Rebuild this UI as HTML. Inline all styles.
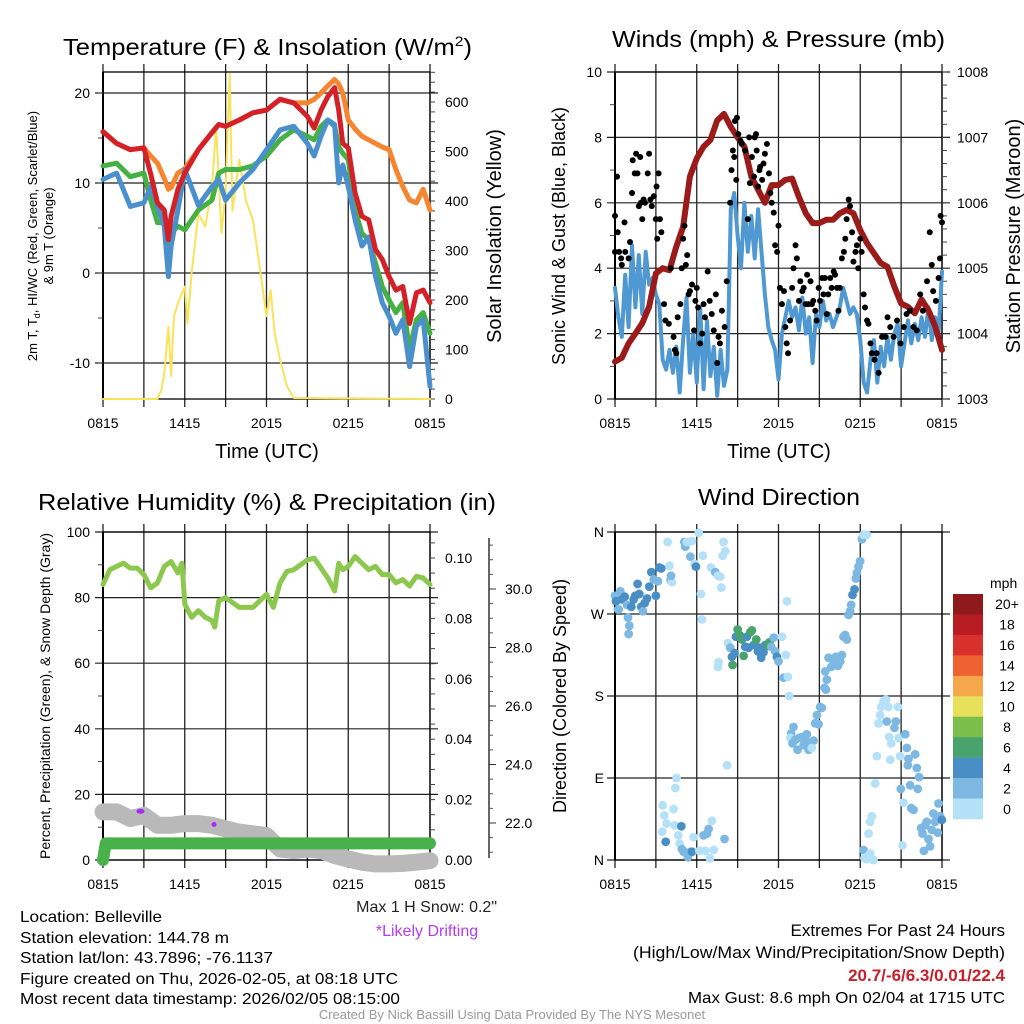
<!DOCTYPE html>
<html><head><meta charset="utf-8"><style>
html,body{margin:0;padding:0;background:#fff;}
svg{display:block;font-family:"Liberation Sans",Arial,sans-serif;}
</style></head><body>
<svg id="root" width="1024" height="1024" viewBox="0 0 1024 1024">
<rect width="1024" height="1024" fill="#fff"/>
<text x="63" y="55" font-size="23" textLength="409" lengthAdjust="spacingAndGlyphs">Temperature (F) &amp; Insolation (W/m<tspan font-size="14" dy="-9">2</tspan><tspan dy="9">)</tspan></text>
<text x="612" y="47" font-size="23" textLength="333" lengthAdjust="spacingAndGlyphs">Winds (mph) &amp; Pressure (mb)</text>
<text x="38" y="510" font-size="23" textLength="458" lengthAdjust="spacingAndGlyphs">Relative Humidity (%) &amp; Precipitation (in)</text>
<text x="698" y="505" font-size="23" textLength="162" lengthAdjust="spacingAndGlyphs">Wind Direction</text>

<g font-size="16">
<text x="20" y="922" textLength="142" lengthAdjust="spacingAndGlyphs">Location: Belleville</text>
<text x="20" y="943" textLength="209" lengthAdjust="spacingAndGlyphs">Station elevation: 144.78 m</text>
<text x="20" y="963" textLength="253" lengthAdjust="spacingAndGlyphs">Station lat/lon: 43.7896; -76.1137</text>
<text x="20" y="984" textLength="378" lengthAdjust="spacingAndGlyphs">Figure created on Thu, 2026-02-05, at 08:18 UTC</text>
<text x="20" y="1004" textLength="380" lengthAdjust="spacingAndGlyphs">Most recent data timestamp: 2026/02/05 08:15:00</text>
</g>
<text x="497" y="912" font-size="16" text-anchor="end" fill="#222">Max 1 H Snow: 0.2"</text>
<text x="427" y="936" font-size="16" text-anchor="middle" fill="#b13cf0">*Likely Drifting</text>
<g font-size="17" text-anchor="end">
<text x="1005" y="936">Extremes For Past 24 Hours</text>
<text x="1005" y="958" textLength="372" lengthAdjust="spacingAndGlyphs">(High/Low/Max Wind/Precipitation/Snow Depth)</text>
<text x="1005" y="981" fill="#c8202a" font-weight="bold">20.7/-6/6.3/0.01/22.4</text>
<text x="1005" y="1003" font-size="16" textLength="317" lengthAdjust="spacingAndGlyphs">Max Gust: 8.6 mph On 02/04 at 1715 UTC</text>
</g>
<text x="512" y="1019" font-size="13" text-anchor="middle" fill="#999">Created By Nick Bassill Using Data Provided By The NYS Mesonet</text>
</svg>
<script>
// ---------- DATA ----------
const xTickLabels = ["0815","1415","2015","0215","0815"];
// temperature panel (hours since 0815)
const tHours = [0,1,2,3,3.5,4,4.5,4.8,5,5.5,6,7,8,8.5,9,10,11,12,13,14,15,15.5,16,16.5,17,17.3,17.6,18,18.5,19,19.5,20,20.5,21,21.5,22,22.5,23,23.5,24];
const redT = [15.7,14.4,13.7,13.9,11,7.8,7,3.7,6.3,9.3,11.1,13.7,15.6,16.5,16.3,17,17.8,18.1,19.3,18.9,17.4,16.1,18.1,19.6,20.6,18.1,14.4,13.9,8.9,6.3,5.9,2.6,1.5,-0.4,-1.9,-1.5,-5.6,-2.2,-1.9,-3.3];
const orangeT = [15.7,14.4,13.7,13.9,13,12.2,10.5,9.3,9.5,11.1,11.6,13.7,15.6,16.5,16.3,17,17.8,18.1,19.3,18.9,18.9,19.3,20,20.8,21.5,21,20,17,16,15.2,14.8,14.4,14,13.7,11.5,9.6,8.1,7.8,9.3,7];
const greenTd = [11.9,12.2,10.7,11.1,8.1,5.6,5.6,0.7,4.4,5.2,4.8,7,8.1,11.1,11.5,11.5,11.9,13,14.8,15.9,15.2,14.8,16.3,17,16.3,14,13.3,12.6,7,4.4,3.7,1.1,-1.5,-3,-4.4,-3.3,-8.5,-5.2,-4.4,-6.7];
const blueWC = [10.4,11.1,7.4,7.8,9.6,7.4,5.2,-0.4,3,7,11.5,7.5,9.6,10.4,8.1,10,11.5,13.7,15.9,16.3,14.4,13,15.2,17,16.5,10,12,9.6,5.9,3,4,-0.4,-3.3,-4.8,-6.7,-5.2,-10.4,-5.9,-5.2,-12.6];
const solarHours = [0,4,4.3,4.5,4.8,5,5.2,5.5,6,6.2,6.5,7,7.5,8,8.3,8.7,9,9.3,9.5,10,10.5,11,11.5,12,12.3,12.6,13,13.5,14,24];
const solarW = [0,0,20,52,146,46,167,194,227,153,254,375,348,429,550,335,420,657,380,483,400,362,267,167,220,133,79,26,2,0];
const tempTicks = [20,10,0,-10];
const solarTicks = [0,100,200,300,400,500,600];
// wind panel
const windHours = [0,0.25,0.5,0.75,1,1.25,1.5,1.75,2,2.25,2.5,2.75,3,3.25,3.5,3.75,4,4.25,4.5,4.75,5,5.25,5.5,5.75,6,6.25,6.5,6.75,7,7.25,7.5,7.75,8,8.25,8.5,8.75,9,9.25,9.5,9.75,10,10.25,10.5,10.75,11,11.25,11.5,11.75,12,12.25,12.5,12.75,13,13.25,13.5,13.75,14,14.25,14.5,14.75,15,15.25,15.5,15.75,16,16.25,16.5,16.75,17,17.25,17.5,17.75,18,18.25,18.5,18.75,19,19.25,19.5,19.75,20,20.25,20.5,20.75,21,21.25,21.5,21.75,22,22.25,22.5,22.75,23,23.25,23.5,23.75,24];
const windSpeed = [3.4,2.5,1.9,3.8,2.2,4.7,2.8,4.4,2.6,4.5,3.5,3.7,3.2,2.9,1.2,0.9,1.5,0.8,1.6,0.2,1.8,3.1,0.8,2.0,0.5,2.8,0.3,2.4,0.7,1.6,0.1,1.5,0.4,0.9,5.8,6.3,5.0,4.0,6.0,4.5,5.6,4.3,5.8,4.5,3.2,2.2,1.8,1.5,0.6,2.0,2.5,3.0,2.5,2.8,2.1,3.1,2.0,2.5,1.1,2.6,2.2,3.0,2.4,2.6,2.2,2.5,2.8,3.4,3.0,2.6,2.8,2.6,1.8,0.5,0.2,1.2,1.8,0.5,1.6,1.0,1.9,1.2,2.0,2.3,1.0,1.7,2.4,1.7,2.3,1.8,2.5,1.9,2.8,1.8,2.5,2.0,3.9];
const gustHours = [0,0.15,0,0.2,0.3,0.45,0.5,0.7,0.75,1.0,1.1,1.25,1.3,1.45,1.55,1.65,1.75,1.85,1.9,2.0,2.1,2.2,2.4,2.5,2.6,2.7,2.85,3.0,3.05,3.1,3.2,3.3,3.4,3.6,3.7,3.95,4.1,4.3,4.4,4.5,4.6,4.8,4.9,5.0,5.1,5.2,5.3,5.4,5.5,5.65,5.8,5.9,6.0,6.1,6.25,6.4,6.5,6.6,6.8,6.95,7.1,7.25,7.4,7.5,7.6,7.7,7.85,8.05,8.2,8.45,8.55,8.65,8.75,8.9,8.8,8.95,9.05,9.2,9.3,9.55,9.75,9.85,9.9,10.05,10.2,10.25,10.35,10.4,10.5,10.6,10.65,10.8,10.9,11.0,11.15,11.3,11.4,11.5,11.65,11.75,11.9,12.0,12.1,12.25,12.4,12.5,12.6,12.7,12.85,13.0,13.1,13.25,13.35,13.5,13.6,13.75,13.85,14.0,14.1,14.2,14.35,14.45,14.55,14.7,14.8,14.95,15.05,15.2,15.3,15.4,15.55,15.65,15.8,15.9,16.05,16.15,16.3,16.4,16.5,16.65,16.8,16.9,17.0,17.15,17.25,17.4,17.5,17.65,17.75,17.85,18.0,18.1,18.25,18.35,18.5,18.6,18.75,18.85,19.05,19.2,19.35,19.6,19.85,20.0,20.2,20.45,20.7,20.95,21.2,21.4,21.65,21.9,22.15,22.4,22.6,22.9,23.1,23.25,23.35,23.55,23.75,23.85,24.0,23.9];
const gustVals = [5.6,6.8,4.5,5.1,4.5,4.3,4.1,5.4,4.5,4.3,4.8,6.3,7.3,6.9,7.5,6.9,5.9,7.4,6.0,5.5,6.1,6.0,6.9,7.5,6.1,5.9,6.2,5.5,6.5,4.9,6.9,5.5,5.1,2.9,2.4,2.3,4.0,1.9,1.5,1.4,2.5,2.9,4.0,4.9,5.3,4.1,4.4,3.2,3.3,3.5,2.1,3.0,3.4,2.8,1.7,2.0,2.9,2.5,3.9,3.0,2.6,2.1,3.2,1.1,1.9,1.7,2.7,2.2,3.6,6.0,7.0,7.6,7.4,6.7,8.5,8.6,8.1,7.9,7.8,7.6,5.5,8.0,6.6,7.4,6.8,8.0,8.1,7.6,6.5,7.0,7.1,6.7,7.2,7.5,7.8,6.9,6.3,6.0,5.7,4.7,4.5,5.3,3.4,2.9,3.3,2.2,1.7,1.4,2.4,3.4,4.0,4.7,4.3,3.0,3.6,3.3,3.4,2.9,3.8,2.9,3.6,2.9,3.0,2.7,2.4,3.4,3.0,3.7,3.2,3.7,2.6,3.2,3.7,3.4,3.9,3.8,3.4,2.7,3.4,4.3,4.5,4.9,5.5,6.1,5.9,5.1,4.2,4.5,4.7,4.0,4.9,4.5,3.2,2.8,2.4,2.3,1.7,1.4,1.2,1.4,0.8,1.9,1.9,2.5,2.2,1.9,2.4,1.7,2.2,2.6,2.7,2.2,2.1,3.2,2.7,3.6,5.1,4.1,3.3,3.0,3.7,4.3,5.4,5.6];
const presHours = [0,0.5,1,1.5,2,2.5,3,3.5,4,4.5,5,5.5,6,6.5,7,7.5,8,8.5,9,9.5,10,10.5,11,11.5,12,12.5,13,13.5,14,14.5,15,15.5,16,16.5,17,17.5,18,18.5,19,19.5,20,20.5,21,21.5,22,22.5,23,23.5,24];
const presMb = [1003.57,1003.63,1003.85,1004.0,1004.16,1004.41,1004.92,1005.0,1004.97,1005.33,1005.63,1006.4,1006.68,1006.86,1006.96,1007.26,1007.36,1007.16,1007.0,1006.86,1006.4,1006.2,1006.0,1006.27,1006.27,1006.35,1006.37,1006.09,1005.84,1005.69,1005.69,1005.74,1005.74,1005.84,1005.89,1005.84,1005.58,1005.38,1005.23,1005.08,1005.02,1004.72,1004.46,1004.41,1004.31,1004.52,1004.36,1004.11,1003.75];
const windTicks = [0,2,4,6,8,10];
const presTicks = [1003,1004,1005,1006,1007,1008];
// humidity panel
const rhHours = [0,0.5,1,1.5,2,2.5,3,3.5,4,4.5,5,5.5,5.8,6,6.5,7,7.5,8,8.2,8.5,9,10,11,12,12.5,13,13.5,14,14.5,15,15.5,16,16.5,17,17.3,17.6,18,18.5,19,19.5,20,20.5,21,21.5,22,22.5,23,23.5,24];
const rhPct = [84,88.5,89.5,90.5,89,89,87,83,84.5,89.5,91,87.5,90.5,78,74,76,74,73,71,79,80,77,77,81,77,84.5,88,88.5,90,91.5,92,89,86,82,90.5,88.5,89.5,92.5,90.5,88.5,89.5,87,87,84.5,85.5,83.5,86.5,86,84];
const snowHours = [0,1,2,3,4,5,6,7,8,9,10,11,12,13,14,15,16,17,18,19,20,21,22,23,24];
const snowIn = [22.38,22.38,22.15,22.26,21.92,21.92,21.98,21.98,21.92,21.80,21.69,21.63,21.57,21.11,21.06,21.11,21.06,20.89,20.77,20.66,20.60,20.60,20.62,20.66,20.71];
const driftHours = [2.75,8.15];
const driftIn = [22.4,21.95];
const precipHours = [0,0.2,24];
const precipIn = [0,0.0055,0.0055];
const rhTicks = [0,20,40,60,80,100];
const precipTicks = [0,0.02,0.04,0.06,0.08,0.10];
const snowTicks = [22,24,26,28,30];
// wind direction panel
const dirHours = [0,0.07,0.22,0.39,0.51,0.71,0.88,0.95,1.05,1.0,1.2,1.37,1.49,1.66,1.78,1.93,2.05,2.18,2.35,2.52,2.67,2.84,3.0,3.15,3.25,3.4,0.27,
3.86,3.99,4.08,4.18,5.09,5.16,5.28,5.53,5.65,5.84,5.94,6.14,6.31,6.45,6.38,7.04,7.36,7.55,7.73,7.8,7.9,8.09,7.97,4.11,
3.5,3.62,3.79,3.47,3.72,4.3,4.38,4.43,4.52,4.65,4.74,4.87,4.91,5.04,5.21,5.35,5.53,5.65,5.77,6.19,6.5,6.63,6.75,6.87,6.97,7.11,7.24,8.04,8.22,
7.6,7.55,8.29,8.46,8.58,8.63,8.78,8.88,9.0,9.14,9.32,9.44,9.56,9.68,9.8,9.93,10.05,10.17,10.37,10.49,10.59,10.73,10.9,11.03,11.22,11.34,11.47,11.64,11.76,11.88,12.0,12.25,12.54,12.62,12.37,12.69,12.79,
13.1,12.93,12.86,13.03,13.23,13.4,13.52,13.72,13.84,13.96,14.08,14.21,14.33,14.57,14.45,14.69,14.82,14.94,15.06,15.18,15.38,15.48,15.55,15.43,15.67,15.87,16.04,16.21,16.36,16.53,16.65,16.77,16.89,17.02,17.14,17.26,17.33,17.43,17.58,17.68,17.75,17.87,17.99,18.12,18.24,18.48,
18.24,18.31,18.48,18.61,18.73,18.61,18.73,18.85,19.1,19.22,18.97,19.34,19.46,19.54,19.71,19.88,20.07,19.95,20.12,20.27,20.2,20.51,20.61,20.76,20.81,20.93,20.98,21.1,21.17,21.3,21.42,21.54,21.49,21.66,21.74,21.91,22.03,22.15,22.22,22.32,22.47,22.57,22.67,22.76,22.88,23.01,23.13,23.25,23.37,23.5,23.62,23.74,23.86,23.99,23.69];
const dirDeg = [290,284,275,295,286,289,280,266,257,248,278,286,290,303,292,278,273,282,287,300,316,308,290,306,321,320,275,
349,323,307,305,349,344,349,333,350,325,322,359,292,334,264,321,316,312,311,299,334,339,349,312,
60,49,40,31,20,56,38,79,90,27,18,37,12,9,8,3,9,9,25,10,27,10,29,34,2,43,11,23,104,
217,212,238,233,223,214,227,245,253,247,242,224,234,245,233,250,252,236,242,229,233,222,228,236,235,239,234,244,229,223,218,245,225,284,200,201,180,
146,139,134,128,132,121,134,135,126,132,138,121,129,131,123,150,159,149,168,167,189,187,198,207,222,212,218,223,213,218,225,245,247,242,269,273,280,291,297,309,315,322,328,352,357,357,
11,2,1,5,7,29,42,48,84,114,0,150,159,168,174,176,168,152,135,128,110,145,152,168,134,114,78,16,63,138,123,111,104,82,57,55,116,101,78,91,35,29,10,38,42,23,15,33,51,42,46,62,48,44,30];
const dirSpeed = [3,5,3,3,5,5,3,3,3,3,5,5,5,5,5,5,3,5,5,5,5,3,5,3,5,5,3,
1,1,3,1,3,3,1,3,1,1,5,1,1,1,1,1,3,1,1,1,1,1,1,3,
1,1,1,1,5,1,1,1,1,1,1,5,3,3,3,3,3,5,1,1,3,1,3,3,1,1,1,3,1,
1,1,1,3,5,7,5,5,7,7,7,7,5,5,5,7,7,5,7,5,5,5,5,5,7,7,3,3,3,5,3,1,1,1,3,1,1,
3,3,1,3,3,3,3,3,3,3,3,3,3,3,1,3,3,3,3,3,3,3,3,3,3,3,3,3,3,3,3,3,3,3,3,3,3,5,5,3,3,3,3,3,1,1,
3,1,1,1,1,1,1,1,1,1,1,1,1,1,1,1,1,3,1,1,1,3,3,1,1,1,3,1,1,3,3,3,3,3,3,3,3,3,3,3,3,3,3,3,3,3,3,3,3,3,3,3,3,5,3];
const dirTickLabels = ["N","E","S","W","N"];
const dirTicks = [0,90,180,270,360];
const cbLabels = ["20+","18","16","14","12","10","8","6","4","2","0"];
const cbColors = ["#8e1a1b","#b71c23","#d8312b","#ee6131","#f5a74a","#e6e05a","#7bbf4a","#48a36d","#4a8ec6","#7db8e2","#b4e1f7"];

// ---------- RENDER ----------
const NS = "http://www.w3.org/2000/svg";
const root = document.getElementById("root");
function mk(tag, attrs, name, parent) {
  const el = document.createElementNS(NS, tag);
  for (const k in attrs) el.setAttribute(k, attrs[k]);
  
  
  (parent || root).appendChild(el);
  return el;
}
function lin(d0, d1, r0, r1) { return v => r0 + (v - d0) * (r1 - r0) / (d1 - d0); }
function pathFrom(xs, ys, sx, sy) {
  let d = "";
  for (let i = 0; i < xs.length; i++) d += (i ? "L" : "M") + sx(xs[i]).toFixed(1) + "," + sy(ys[i]).toFixed(1);
  return d;
}

function panelFrame(x0, x1, y0, y1, yTicksPx, name) {
  const g = mk("g", {}, name + "-axes");
  const sx = lin(0, 24, x0, x1);
  for (let h = 0; h <= 24; h += 3) {
    mk("line", {x1: sx(h), x2: sx(h), y1: y0 - 8, y2: y1 + 8, stroke: "#222", "stroke-width": 1.3}, name + "-vgrid", g);
  }
  yTicksPx.forEach(y => mk("line", {x1: x0 - 8, x2: x1 + 8, y1: y, y2: y, stroke: "#222", "stroke-width": 1.2}, name + "-hgrid", g));
  mk("line", {x1: x0, x2: x0, y1: y0, y2: y1, stroke: "#000", "stroke-width": 2}, name + "-left-axis", g);
  mk("rect", {x: x0, y: y0, width: x1 - x0, height: y1 - y0, fill: "none", stroke: "#000", "stroke-width": 1.3}, name + "-frame", g);
  xTickLabels.forEach((t, i) => {
    const tx = mk("text", {x: sx(i * 6), y: y1 + 29, "font-size": 14, "text-anchor": "middle"}, name + "-x-tick-label", g);
    tx.textContent = t;
  });
  return sx;
}
function rightTicks(x1, y0, y1, sy, majors, minorStep, dmin, dmax, fmt, name) {
  const g = mk("g", {}, name + "-right-axis");
  for (let v = dmin; v <= dmax + 1e-9; v += minorStep) {
    const y = sy(v); if (y < y0 - 0.5 || y > y1 + 0.5) continue;
    mk("line", {x1: x1, x2: x1 + 5, y1: y, y2: y, stroke: "#444", "stroke-width": 1}, name + "-minor-tick", g);
  }
  majors.forEach(v => {
    const t = mk("text", {x: x1 + 15, y: sy(v) + 5, "font-size": 14}, name + "-right-tick-label", g);
    t.textContent = fmt(v);
  });
}
function leftLabels(x0, sy, vals, labels, name) {
  vals.forEach((v, i) => {
    const t = mk("text", {x: x0 - 13, y: sy(v) + 5, "font-size": 14, "text-anchor": "end"}, name + "-y-tick-label");
    t.textContent = labels ? labels[i] : String(v);
  });
}
function rotText(x, y, txt, size, name, fill) {
  const t = mk("text", {x: 0, y: 0, "font-size": size, "text-anchor": "middle", transform: `translate(${x},${y}) rotate(-90)`, fill: fill || "#000"}, name);
  t.textContent = txt;
  return t;
}

// Panel 1: temperature
(function () {
  const x0 = 103, x1 = 430, y0 = 72, y1 = 399;
  const sy = lin(0, 10, 273, 183);
  const ss = lin(0, 600, 399, 102);
  const sx = panelFrame(x0, x1, y0, y1, tempTicks.map(sy), "temp");
  for (let v = -10; v <= 20; v += 5) mk("line", {x1: x0 - 5, x2: x0, y1: sy(v), y2: sy(v), stroke: "#444"}, "temp-left-minor-tick");
  leftLabels(x0, sy, tempTicks, null, "temp");
  rightTicks(x1, y0, y1, ss, solarTicks, 20, 0, 660, v => String(v), "solar");
  const g = mk("g", {fill: "none", "stroke-linejoin": "round", "stroke-linecap": "round"}, "temp-series");
  mk("path", {d: pathFrom(solarHours, solarW, sx, ss), stroke: "#f9e35a", "stroke-width": 2}, "solar-insolation-line", g);
  mk("path", {d: pathFrom(tHours, orangeT, sx, sy), stroke: "#f5852f", "stroke-width": 5}, "temp-9m-line", g);
  mk("path", {d: pathFrom(tHours, greenTd, sx, sy), stroke: "#45b044", "stroke-width": 5}, "dewpoint-line", g);
  mk("path", {d: pathFrom(tHours, blueWC, sx, sy), stroke: "#4a90cc", "stroke-width": 5}, "wind-chill-line", g);
  mk("path", {d: pathFrom(tHours, redT, sx, sy), stroke: "#d42027", "stroke-width": 5}, "temp-2m-line", g);
  const t = mk("text", {x: 267, y: 458, "font-size": 20, "text-anchor": "middle"}, "temp-x-axis-title");
  t.textContent = "Time (UTC)";
  rotText(37, 236, "2m T, T", 13, "temp-y-axis-title-line1").innerHTML = '2m T, T<tspan font-size="9" dy="3">d</tspan><tspan dy="-3">, HI/WC (Red, Green, Scarlet/Blue)</tspan>';
  rotText(53, 236, "& 9m T (Orange)", 13, "temp-y-axis-title-line2");
  rotText(501, 236, "Solar Insolation (Yellow)", 20, "solar-y-axis-title");
})();

// Panel 2: winds
(function () {
  const x0 = 615, x1 = 942, y0 = 72, y1 = 399;
  const sy = lin(0, 10, 399, 72);
  const sp = lin(1003, 1008, 399, 72);
  const sx = panelFrame(x0, x1, y0, y1, windTicks.map(sy), "wind");
  for (let v = 1; v <= 9; v += 2) mk("line", {x1: x0 - 5, x2: x0, y1: sy(v), y2: sy(v), stroke: "#444"}, "wind-left-minor-tick");
  leftLabels(x0, sy, windTicks, null, "wind");
  rightTicks(x1, y0, y1, sp, presTicks, 0.2, 1003, 1008, v => String(v), "pressure");
  const g = mk("g", {fill: "none", "stroke-linejoin": "round", "stroke-linecap": "round"}, "wind-series");
  mk("path", {d: pathFrom(windHours, windSpeed, sx, sy), stroke: "#4f98d2", "stroke-width": 4}, "sonic-wind-line", g);
  const gd = mk("g", {fill: "#000"}, "gust-dots");
  gustHours.forEach((h, i) => {
    mk("circle", {cx: sx(h), cy: sy(gustVals[i]), r: 3}, "gust-dot", gd);
  });
  mk("path", {d: pathFrom(presHours, presMb, sx, sp), stroke: "#9b1b1b", "stroke-width": 6}, "pressure-line", g);
  const t = mk("text", {x: 779, y: 458, "font-size": 20, "text-anchor": "middle"}, "wind-x-axis-title");
  t.textContent = "Time (UTC)";
  rotText(565, 236, "Sonic Wind & Gust (Blue, Black)", 18, "wind-y-axis-title");
  rotText(1020, 236, "Station Pressure (Maroon)", 20, "pressure-y-axis-title");
})();

// Panel 3: humidity
(function () {
  const x0 = 103, x1 = 430, y0 = 532, y1 = 860;
  const sy = lin(0, 100, 860, 532);
  const sp = lin(0, 0.1, 860, 558);
  const sn = lin(30, 22, 589, 823);
  const sx = panelFrame(x0, x1, y0, y1, rhTicks.map(sy), "rh");
  for (let v = 10; v <= 90; v += 20) mk("line", {x1: x0 - 5, x2: x0, y1: sy(v), y2: sy(v), stroke: "#444"}, "rh-left-minor-tick");
  leftLabels(x0, sy, rhTicks, null, "rh");
  rightTicks(x1, y0, y1, sp, precipTicks, 0.005, 0, 0.108, v => v.toFixed(2), "precip");
  const ga = mk("g", {}, "snow-axis");
  mk("line", {x1: 489, x2: 489, y1: 538, y2: 858, stroke: "#333", "stroke-width": 1.5}, "snow-axis-line", ga);
  for (let v = 21; v <= 31.5; v += 0.5) mk("line", {x1: 489, x2: 493, y1: sn(v), y2: sn(v), stroke: "#555"}, "snow-minor-tick", ga);
  snowTicks.forEach(v => {
    mk("line", {x1: 489, x2: 496, y1: sn(v), y2: sn(v), stroke: "#333"}, "snow-major-tick", ga);
    const t = mk("text", {x: 505, y: sn(v) + 5, "font-size": 14}, "snow-tick-label", ga);
    t.textContent = v.toFixed(1);
  });
  const g = mk("g", {fill: "none", "stroke-linejoin": "round", "stroke-linecap": "round"}, "rh-series");
  mk("path", {d: pathFrom(snowHours, snowIn, sx, sn), stroke: "#b9b9b9", "stroke-width": 17}, "snow-depth-line", g);
  mk("path", {d: pathFrom(precipHours, precipIn, sx, sp), stroke: "#48b14b", "stroke-width": 12}, "precipitation-line", g);
  mk("path", {d: pathFrom(rhHours, rhPct, sx, sy), stroke: "#8dc84e", "stroke-width": 5}, "humidity-line", g);
  driftHours.forEach((h, i) => {
    mk("ellipse", {cx: sx(h), cy: sn(driftIn[i]), rx: i ? 2.5 : 4, ry: 2.5, fill: "#a82cf0"}, "drifting-marker");
  });
  rotText(50, 696, "Percent, Precipitation (Green), & Snow Depth (Gray)", 14, "rh-y-axis-title");
})();

// Panel 4: wind direction
(function () {
  const x0 = 615, x1 = 942, y0 = 532, y1 = 860;
  const sy = lin(0, 360, 860, 532);
  const sx = panelFrame(x0, x1, y0, y1, dirTicks.map(sy), "dir");
  leftLabels(x0 + 2, sy, dirTicks, dirTickLabels, "dir");
  const colorFor = s => cbColors[10 - Math.min(10, Math.floor(s / 2))];
  const g = mk("g", {}, "direction-dots");
  dirHours.forEach((h, i) => {
    mk("circle", {cx: sx(h), cy: sy(dirDeg[i]), r: 4.4, fill: colorFor(dirSpeed[i])}, "direction-dot", g);
  });
  rotText(566, 696, "Direction (Colored By Speed)", 18, "dir-y-axis-title");
  const cb = mk("g", {}, "speed-colorbar");
  const bh = 225 / 11;
  cbColors.forEach((c, i) => {
    mk("rect", {x: 953, y: 594 + i * bh, width: 30, height: bh + 0.3, fill: c}, "colorbar-swatch", cb);
    const t = mk("text", {x: 1007, y: 594 + i * bh + bh / 2 + 5, "font-size": 14, "text-anchor": "middle"}, "colorbar-label", cb);
    t.textContent = cbLabels[i];
  });
  const m = mk("text", {x: 990, y: 588, "font-size": 14}, "colorbar-unit", cb);
  m.textContent = "mph";
})();
</script>
</body></html>
